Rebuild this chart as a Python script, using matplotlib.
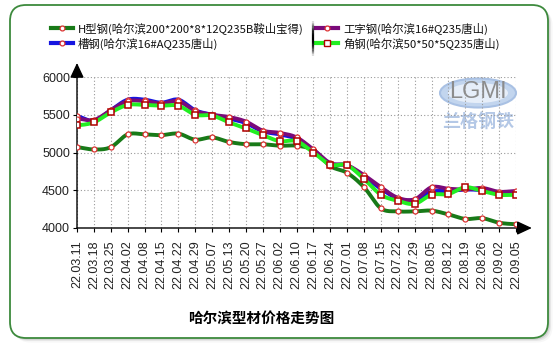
# Harbin section steel price trend chart (four product series, weekly quotes)
import numpy as np
import matplotlib
matplotlib.use('Agg')
import matplotlib.pyplot as plt
from matplotlib.patches import FancyBboxPatch, Ellipse
from matplotlib.lines import Line2D
from matplotlib.collections import LineCollection

CJK = ['Noto Sans CJK SC', 'DejaVu Sans']
LATIN = ['Liberation Sans', 'DejaVu Sans']

dates = ['22.03.11', '22.03.18', '22.03.25', '22.04.02', '22.04.08', '22.04.15',
         '22.04.22', '22.04.29', '22.05.07', '22.05.13', '22.05.20', '22.05.27',
         '22.06.02', '22.06.10', '22.06.17', '22.06.24', '22.07.01', '22.07.08',
         '22.07.15', '22.07.22', '22.07.29', '22.08.05', '22.08.12', '22.08.19',
         '22.08.26', '22.09.02', '22.09.05']

h_beam = [5070, 5040, 5070, 5240, 5240, 5230, 5250, 5170, 5200, 5140, 5110, 5110,
          5090, 5090, 5030, 4820, 4730, 4540, 4260, 4220, 4220, 4230, 4180, 4120,
          4130, 4070, 4050]
channel = [5480, 5420, 5560, 5700, 5700, 5660, 5700, 5560, 5500, 5450, 5390, 5280,
           5240, 5180, 5030, 4850, 4830, 4680, 4520, 4390, 4370, 4480, 4490, 4510,
           4500, 4470, 4480]
i_beam = [5450, 5430, 5560, 5680, 5680, 5650, 5680, 5550, 5500, 5470, 5410, 5290,
          5260, 5200, 5040, 4860, 4830, 4700, 4540, 4400, 4380, 4540, 4520, 4510,
          4530, 4480, 4490]
angle = [5360, 5400, 5530, 5630, 5630, 5620, 5620, 5500, 5490, 5400, 5320, 5230,
         5150, 5150, 5000, 4840, 4830, 4650, 4440, 4360, 4320, 4440, 4450, 4540,
         4490, 4440, 4440]

labels = ['H型钢(哈尔滨200*200*8*12Q235B鞍山宝得)', '槽钢(哈尔滨16#AQ235唐山)',
          '工字钢(哈尔滨16#Q235唐山)', '角钢(哈尔滨50*50*5Q235唐山)']
title = '哈尔滨型材价格走势图'

W, H = 558, 347


def fx(px):
    return px / W


def fy(py):
    return 1 - py / H


def smooth(y, steps=12):
    # Catmull-Rom curve through the points, x is just the index
    y = np.asarray(y, dtype=float)
    p = np.concatenate([[y[0]], y, [y[-1]]])
    xs, ys = [], []
    for i in range(len(y) - 1):
        p0, p1, p2, p3 = p[i], p[i + 1], p[i + 2], p[i + 3]
        t = np.linspace(0, 1, steps, endpoint=False)
        v = 0.5 * (2 * p1 + (-p0 + p2) * t + (2 * p0 - 5 * p1 + 4 * p2 - p3) * t ** 2
                   + (-p0 + 3 * p1 - 3 * p2 + p3) * t ** 3)
        xs.append(i + t)
        ys.append(v)
    xs.append([len(y) - 1])
    ys.append([y[-1]])
    return np.concatenate(xs), np.concatenate(ys)


fig = plt.figure(figsize=(5.58, 3.47), dpi=100)
fig.patch.set_facecolor('white')

# rounded frame with a soft shadow
for off, a in [(0.045, 0.06), (0.03, 0.12), (0.018, 0.2)]:
    fig.add_artist(FancyBboxPatch((0.10 + off, 0.09 - off), 5.38, 3.33,
                                  boxstyle='round,pad=0,rounding_size=0.16',
                                  transform=fig.dpi_scale_trans, facecolor='#777777',
                                  edgecolor='none', alpha=a, zorder=-5))
fig.add_artist(FancyBboxPatch((0.10, 0.09), 5.38, 3.33,
                              boxstyle='round,pad=0,rounding_size=0.16',
                              transform=fig.dpi_scale_trans, facecolor='white',
                              edgecolor='#3d8a3d', lw=1.3, zorder=-4))

# LGMI watermark
fig.add_artist(Ellipse((fx(478), fy(93)), fx(76), 29 / H, transform=fig.transFigure,
                       facecolor='#c2d5ee', edgecolor='#a9c1e4', lw=1.5, zorder=-3))
fig.add_artist(Ellipse((fx(478), fy(93)), fx(60), 20 / H, transform=fig.transFigure,
                       facecolor='#e6eef9', edgecolor='none', zorder=-2.5))
fig.text(fx(478), fy(92), 'LGMI', ha='center', va='center', fontsize=17,
         color='#8c8c8c', family=LATIN, zorder=-2)
fig.text(fx(478), fy(122), '兰格钢铁', ha='center', va='center', fontsize=13,
         color='#b4c8e6', weight='bold', family=CJK, zorder=-2)

ax = fig.add_axes([fx(77), 119 / H, 439 / W, 151 / H])
ax.patch.set_alpha(0)
x = np.arange(len(dates))
ax.set_xlim(0, len(dates) - 1)
ax.set_ylim(4000, 6000)
ax.set_yticks([4000, 4500, 5000, 5500, 6000])
ax.set_xticks(x)
ax.set_xticklabels(dates, rotation=90, fontsize=9, family=LATIN, color='#222222')
for t in ax.get_yticklabels():
    t.set_fontsize(9)
    t.set_family(LATIN)
    t.set_color('#222222')
ax.tick_params(direction='out', length=3, width=0.8, pad=2)
ax.tick_params(axis='x', pad=6)
ax.grid(True, linestyle=(0, (1, 2)), color='#999999', lw=0.8)
for s in ax.spines.values():
    s.set_visible(False)

arrow = dict(arrowstyle='-|>,head_length=0.75,head_width=0.35', color='black',
             lw=1, mutation_scale=12, shrinkA=0, shrinkB=0)
ax.annotate('', xy=(0, 1.093), xytext=(0, 0), xycoords='axes fraction', arrowprops=arrow)
ax.annotate('', xy=(1.036, 0), xytext=(0, 0), xycoords='axes fraction', arrowprops=arrow)

series = [
    (h_beam, '#187a18', 'o'),
    (channel, '#1515e0', 'o'),
    (i_beam, '#7a0a7a', 'o'),
    (angle, '#22ee22', 's'),
]
for vals, col, mk in series:
    sx, sy = smooth(vals)
    ax.plot(sx, sy, color=col, lw=2.8, solid_capstyle='round', zorder=3)
for vals, col, mk in series:
    if mk == 's':
        ax.plot(x, vals, ls='none', marker='s', ms=4.5, mfc='white', mec='#b00000',
                mew=1.1, zorder=4)
    else:
        ax.plot(x, vals, ls='none', marker='o', ms=3.6, mfc='white', mec='#dd3333',
                mew=0.9, zorder=4)

# legend, two columns with a divider
def legend_item(x0, y0, col, mk, text):
    fig.add_artist(Line2D([fx(x0), fx(x0 + 22)], [fy(y0), fy(y0)], color=col, lw=3,
                          transform=fig.transFigure))
    if mk == 's':
        fig.add_artist(Line2D([fx(x0 + 11)], [fy(y0)], marker='s', ms=4, mfc='white',
                              mec='#b00000', mew=1, transform=fig.transFigure))
    else:
        fig.add_artist(Line2D([fx(x0 + 11)], [fy(y0)], marker='o', ms=3.5, mfc='white',
                              mec='#dd3333', mew=0.9, transform=fig.transFigure))
    fig.text(fx(x0 + 27), fy(y0 + 0.5), text, ha='left', va='center', fontsize=8.2,
             family=CJK, color='#111111')


legend_item(51, 28, '#187a18', 'o', labels[0])
legend_item(51, 43, '#1515e0', 'o', labels[1])
legend_item(316, 28, '#7a0a7a', 'o', labels[2])
legend_item(316, 43, '#22ee22', 's', labels[3])

ys = np.linspace(fy(20), fy(57), 30)
segs = [[(fx(313), ys[i]), (fx(313), ys[i + 1])] for i in range(len(ys) - 1)]
alphas = 1 - np.abs(np.linspace(-1, 1, len(segs))) ** 2
fig.add_artist(LineCollection(segs, colors=[(0, 0, 0, a) for a in alphas], lw=1.6,
                              transform=fig.transFigure))

fig.text(fx(261), fy(319), title, ha='center', va='center', fontsize=10.5,
         weight='bold', family=CJK, color='black')

fig.savefig('out.png', dpi=100)
